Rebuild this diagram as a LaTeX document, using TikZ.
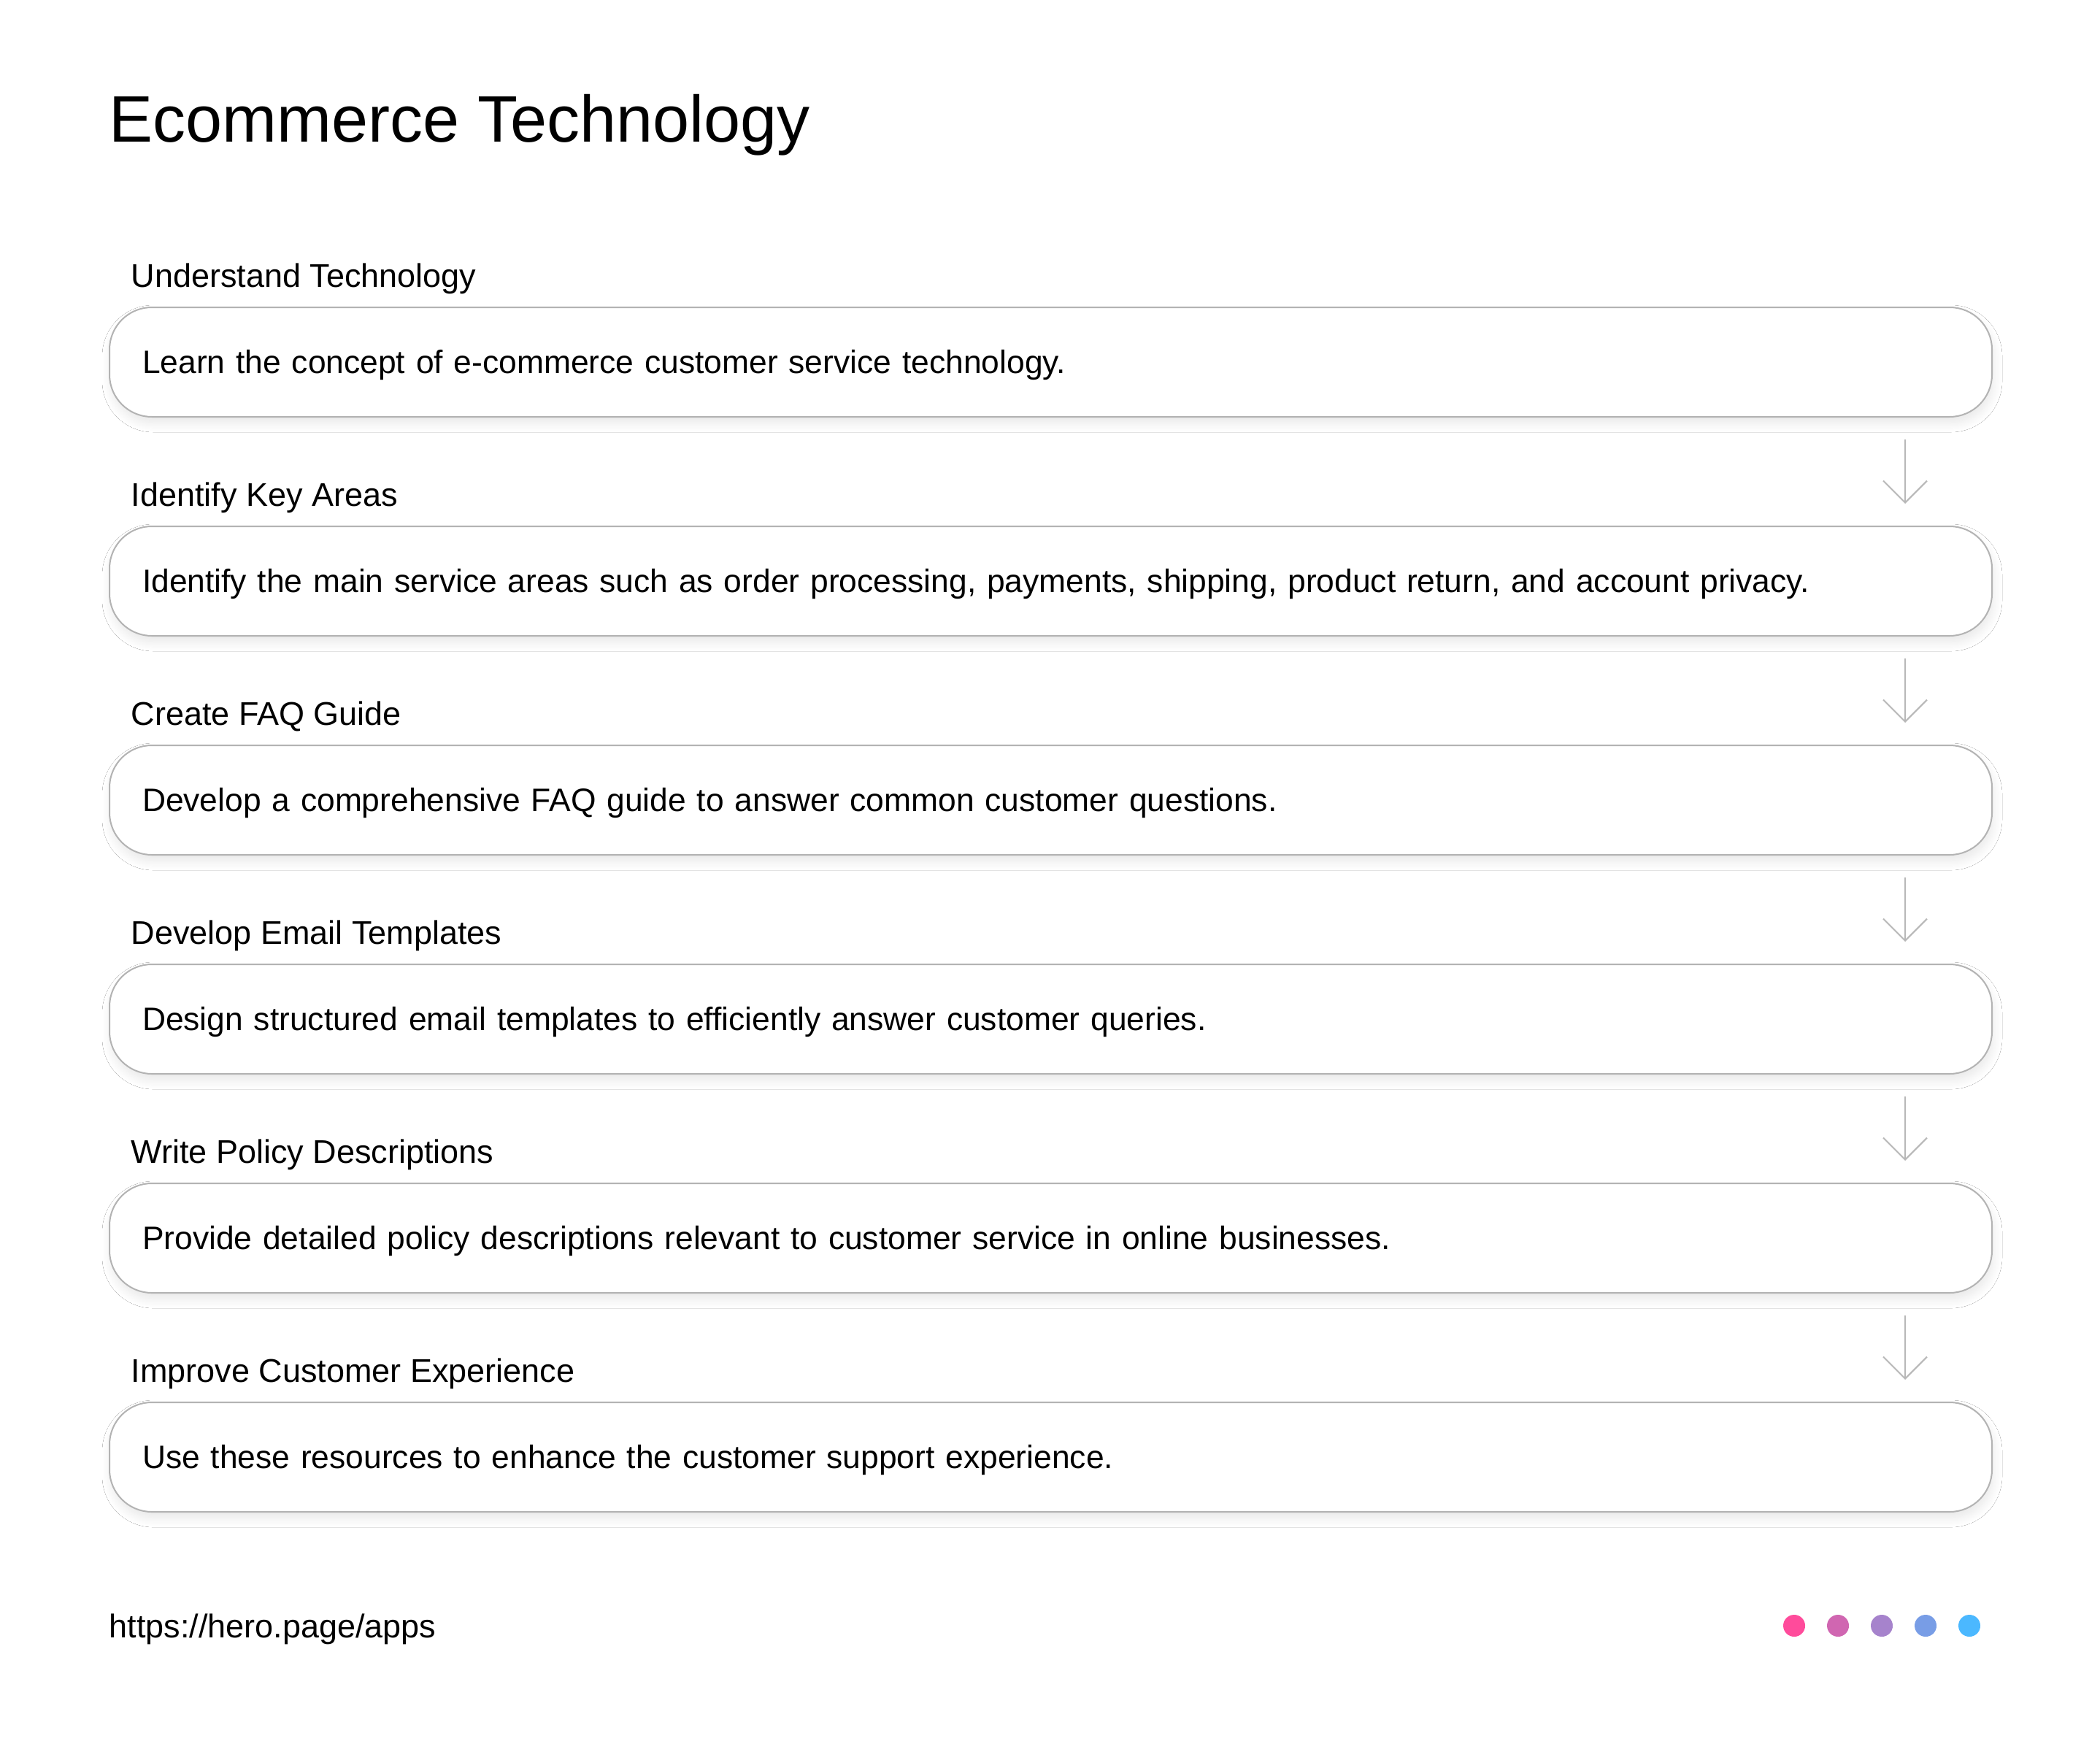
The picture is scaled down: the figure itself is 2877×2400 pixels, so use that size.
\documentclass[tikz,border=0pt]{standalone}
\usepackage{fontspec}
\setmainfont{Liberation Sans}
\usetikzlibrary{arrows.meta,shadows.blur}

\definecolor{boxgray}{HTML}{B3B3B3}
\definecolor{arrgray}{HTML}{B8B8B8}
\definecolor{dotA}{HTML}{FF4B9B}
\definecolor{dotB}{HTML}{D066B1}
\definecolor{dotC}{HTML}{A683CC}
\definecolor{dotD}{HTML}{789DE6}
\definecolor{dotE}{HTML}{4BB8FF}

\begin{document}
\begin{tikzpicture}[x=1pt,y=-1pt,
    arr/.style={draw=arrgray, line width=2pt, -{Straight Barb[length=30pt,width=60pt]}}]

        \useasboundingbox[fill=white] (0,0) rectangle (2877,2400);

        \node[anchor=base west, font=\fontsize{90}{100}\selectfont] (title) at (146,195) {Ecommerce Technology};

        \begin{scope}[every node/.style={anchor=base west, font=\fontsize{45}{54}\selectfont}]
          \node (lab1) at (176,393)  {Understand Technology};
          \node (lab2) at (176,693)  {Identify Key Areas};
          \node (lab3) at (176,993)  {Create FAQ Guide};
          \node (lab4) at (176,1293) {Develop Email Templates};
          \node (lab5) at (176,1593) {Write Policy Descriptions};
          \node (lab6) at (176,1893) {Improve Customer Experience};
          \node (url)  at (146,2243) {https://hero.page/apps};
        \end{scope}

        \begin{scope}[every node/.style={anchor=north west, draw=boxgray, line width=2pt, fill=white,
            rounded corners=58pt, minimum width=2579pt, minimum height=150pt,
            text width=2489pt, inner xsep=45pt, inner ysep=0pt, align=left,
            text height=30pt, text depth=0pt, font=\fontsize{44.4}{53}\selectfont,
            blur shadow={shadow xshift=2pt, shadow yshift=-9pt, shadow blur radius=12pt, shadow opacity=9, shadow blur steps=12}}]
          \node (box1) at (149,420)  {Learn the concept of e-commerce customer service technology.};
          \node (box2) at (149,720)  {Identify the main service areas such as order processing, payments, shipping, product return, and account privacy.};
          \node (box3) at (149,1020) {Develop a comprehensive FAQ guide to answer common customer questions.};
          \node (box4) at (149,1320) {Design structured email templates to efficiently answer customer queries.};
          \node (box5) at (149,1620) {Provide detailed policy descriptions relevant to customer service in online businesses.};
          \node (box6) at (149,1920) {Use these resources to enhance the customer support experience.};
        \end{scope}

        \draw[arr] ([xshift=-120pt,yshift=-30pt]box1.south east) -- ([xshift=-120pt,yshift=30pt]box2.north east);
        \draw[arr] ([xshift=-120pt,yshift=-30pt]box2.south east) -- ([xshift=-120pt,yshift=30pt]box3.north east);
        \draw[arr] ([xshift=-120pt,yshift=-30pt]box3.south east) -- ([xshift=-120pt,yshift=30pt]box4.north east);
        \draw[arr] ([xshift=-120pt,yshift=-30pt]box4.south east) -- ([xshift=-120pt,yshift=30pt]box5.north east);
        \draw[arr] ([xshift=-120pt,yshift=-30pt]box5.south east) -- ([xshift=-120pt,yshift=30pt]box6.north east);

        \begin{scope}[every node/.style={circle, inner sep=0pt, minimum size=30pt}]
          \node[fill=dotA] (dot1) at (2458,2227) {};
          \node[fill=dotB] (dot2) at (2518,2227) {};
          \node[fill=dotC] (dot3) at (2578,2227) {};
          \node[fill=dotD] (dot4) at (2638,2227) {};
          \node[fill=dotE] (dot5) at (2698,2227) {};
        \end{scope}

      \end{tikzpicture}
\end{document}
